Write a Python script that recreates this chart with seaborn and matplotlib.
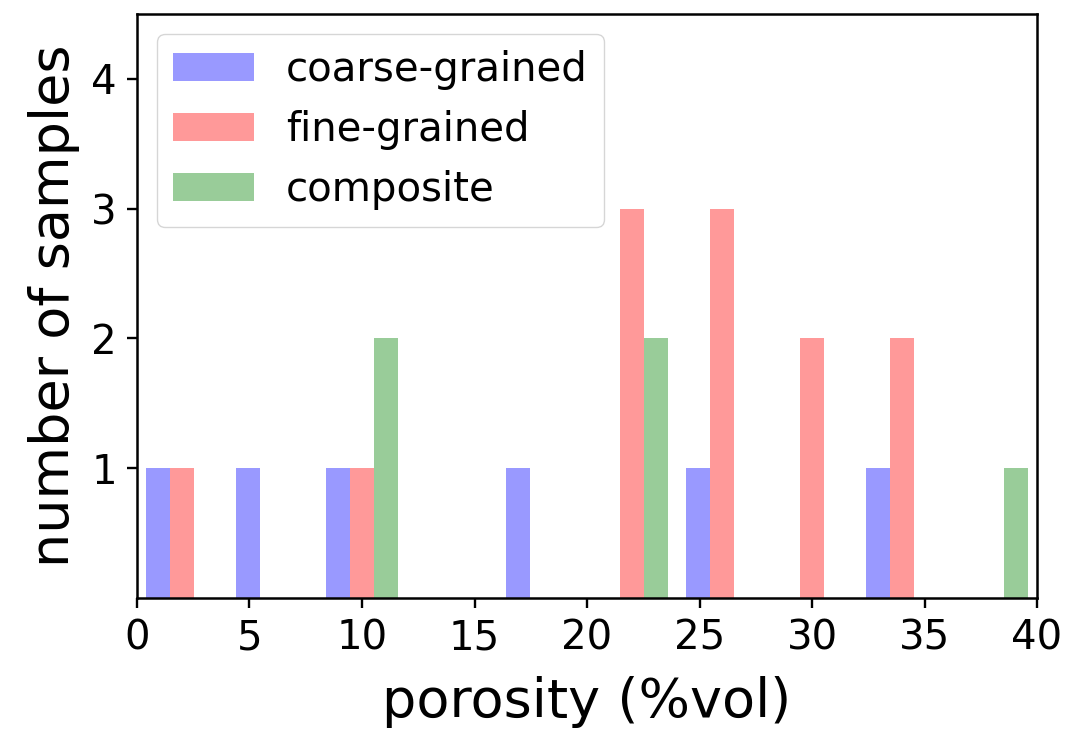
import numpy as np
import pandas as pd
import matplotlib
matplotlib.use("Agg")
import matplotlib.pyplot as plt
import seaborn as sns

# histogram bins (porosity, %vol) and counts
bin_edges = [0, 4, 8, 12, 16, 20, 24, 28, 32, 36, 40]
bin_centers = [2, 6, 10, 14, 18, 22, 26, 30, 34, 38]
coarse_counts = [1, 1, 1, 0, 1, 0, 1, 0, 1, 0]
fine_counts = [1, 0, 1, 0, 0, 3, 3, 2, 2, 0]
composite_counts = [0, 0, 2, 0, 0, 2, 0, 0, 0, 1]
groups = ["coarse-grained", "fine-grained", "composite"]
colors = ["blue", "red", "green"]

df = pd.concat([
    pd.DataFrame({"porosity": bin_centers, "count": c, "type": g})
    for g, c in zip(groups, [coarse_counts, fine_counts, composite_counts])
], ignore_index=True)

fig = plt.figure(figsize=(10.76, 7.35), dpi=100)
ax = fig.add_axes([0.1273, 0.1864, 0.8365, 0.7946])

sns.histplot(
    data=df, x="porosity", weights="count", hue="type", hue_order=groups,
    bins=bin_edges, multiple="dodge", shrink=0.8,
    palette=dict(zip(groups, colors)), alpha=0.4, linewidth=0, ax=ax,
)

ax.set_xlim(0, 40)
ax.set_ylim(0, 4.5)
ax.set_xticks(range(0, 41, 5))
ax.set_yticks([1, 2, 3, 4])
ax.tick_params(labelsize=29, length=7.5, width=1.7, pad=7)
for s in ax.spines.values():
    s.set_linewidth(1.8)
ax.set_xlabel("porosity (%vol)", fontsize=39, labelpad=13)
ax.set_ylabel("number of samples", fontsize=39, labelpad=8)

sns.move_legend(ax, "upper left", title=None, fontsize=29, frameon=True)

fig.savefig("out.png", dpi=100)
plt.close()
